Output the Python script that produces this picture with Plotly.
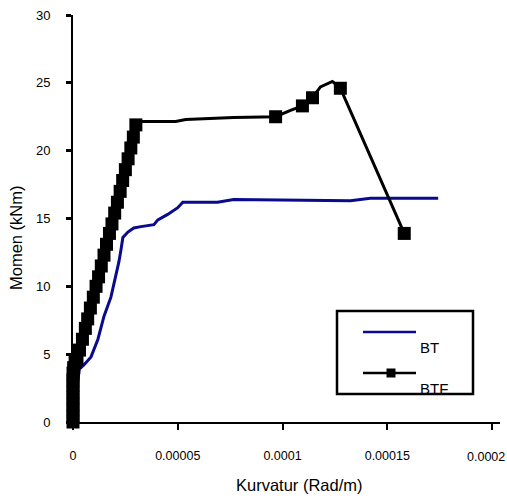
import plotly.graph_objects as go

# ---- data ----
bt_x = [0.0, 3.0e-6, 5.2e-6, 8.6e-6, 11.9e-6, 14.8e-6, 18.1e-6, 20.5e-6, 21.9e-6, 22.9e-6,
        23.8e-6, 26.2e-6, 29.0e-6, 32.4e-6, 38.6e-6, 40.5e-6, 45.2e-6, 50.0e-6, 52.4e-6,
        69.0e-6, 76.7e-6, 132.4e-6, 141.9e-6, 174.3e-6]
bt_y = [0.0, 3.9, 4.2, 4.8, 6.1, 7.8, 9.2, 10.7, 11.8, 12.7,
        13.6, 14.0, 14.3, 14.4, 14.55, 14.9, 15.3, 15.8, 16.2,
        16.2, 16.4, 16.3, 16.5, 16.5]

btf_x = [0.0, 0.0, 0.0, 0.0, 0.0, 0.0, 0.0, 0.0, 0.0, 0.3e-6,
         1.0e-6, 1.9e-6, 3.1e-6, 4.5e-6, 5.9e-6, 7.0e-6, 8.3e-6, 9.7e-6, 11.0e-6, 12.2e-6,
         13.5e-6, 14.8e-6, 16.0e-6, 17.4e-6, 18.6e-6, 19.9e-6, 21.2e-6, 22.5e-6, 23.7e-6, 25.0e-6,
         26.3e-6, 27.6e-6, 28.8e-6, 30.0e-6,
         32.4e-6, 49.0e-6, 53.8e-6, 76.7e-6, 89.5e-6, 96.7e-6, 103.8e-6, 109.5e-6, 114.3e-6,
         118.1e-6, 123.8e-6, 127.6e-6, 158.1e-6]
btf_y = [0.0, 0.4, 0.9, 1.3, 1.8, 2.2, 2.7, 3.1, 3.6, 4.0,
         4.4, 4.6, 5.3, 6.1, 6.9, 7.6, 8.4, 9.2, 10.0, 10.7,
         11.5, 12.3, 13.1, 13.9, 14.6, 15.4, 16.2, 17.0, 17.8, 18.6,
         19.4, 20.2, 21.0, 21.9,
         22.15, 22.15, 22.3, 22.45, 22.5, 22.5, 22.97, 23.3, 23.9,
         24.7, 25.1, 24.6, 13.9]
btf_has_marker = [1] * 34 + [0, 0, 0, 0, 0, 1, 0, 1, 1, 0, 0, 1, 1]

x_ticks = [0, 0.00005, 0.0001, 0.00015, 0.0002]
x_tick_text = ["0", "0.00005", "0.0001", "0.00015", "0.0002"]
y_ticks = [0, 5, 10, 15, 20, 25, 30]

series_names = ["BT", "BTF"]

FONT = "Arial, 'Liberation Sans', sans-serif"
BLUE = "#0a0a8c"

# the last x label sits a little left of its tick (as in the original) so it stays on the page:
# it is drawn as an annotation at its tick value, shifted left
x_tick_labels = x_tick_text[:-1] + [""]

fig = go.Figure()
fig.add_trace(go.Scatter(x=bt_x, y=bt_y, mode="lines", name=series_names[0],
                         line=dict(color=BLUE, width=3), showlegend=False))
fig.add_trace(go.Scatter(x=btf_x, y=btf_y, mode="lines+markers", name=series_names[1],
                         line=dict(color="black", width=3),
                         marker=dict(symbol="square", color="black", opacity=1,
                                     size=[13 if m else 0 for m in btf_has_marker],
                                     line=dict(width=0)),
                         opacity=1, cliponaxis=False, showlegend=False))

# plot area in pixels: x 73..500, y 15..422
L, R, T, B = 73, 500, 15, 422
W, H = R - L, B - T
px = lambda x: (x - L) / W
py = lambda y: (B - y) / H

# legend box (pixels) 337..473 x 311..394
LX0, LX1, LY0, LY1 = 337, 473, 311, 394
lx = lambda x: (x - LX0) / (LX1 - LX0)
ly = lambda y: (LY1 - y) / (LY1 - LY0)

# legend labels as text in a small clipped subplot (the box clips "BTF" like the original)
fig.add_trace(go.Scatter(x=[lx(420), lx(420)], y=[ly(349), ly(390)], mode="text",
                         text=series_names, textposition="middle right",
                         textfont=dict(family=FONT, size=15, color="black"),
                         xaxis="x2", yaxis="y2", cliponaxis=True, showlegend=False,
                         hoverinfo="skip"))

shapes = [
    dict(type="rect", xref="paper", yref="paper", x0=px(LX0), x1=px(LX1), y0=py(LY1), y1=py(LY0),
         line=dict(color="black", width=2.5), fillcolor="rgba(0,0,0,0)", layer="above"),
    dict(type="line", xref="paper", yref="paper", x0=px(363), x1=px(416), y0=py(332), y1=py(332),
         line=dict(color=BLUE, width=2.5), layer="above"),
    dict(type="line", xref="paper", yref="paper", x0=px(363), x1=px(416), y0=py(373), y1=py(373),
         line=dict(color="black", width=2.5), layer="above"),
    dict(type="rect", xref="paper", yref="paper", x0=px(386.5), x1=px(395.5), y0=py(377.5), y1=py(368.5),
         line=dict(width=0), fillcolor="black", layer="above"),
]

annotations = [
    dict(text=x_tick_text[-1], xref="x", yref="paper", x=x_ticks[-1], y=py(457.5), xshift=-6,
         xanchor="center", yanchor="middle", showarrow=False,
         font=dict(family=FONT, size=12.5, color="black")),
    dict(text="Kurvatur (Rad/m)", xref="paper", yref="paper", x=px(299), y=py(485),
         xanchor="center", yanchor="middle", showarrow=False,
         font=dict(family=FONT, size=16.5, color="black")),
    dict(text="Momen (kNm)", xref="paper", yref="paper", x=px(16), y=py(237), textangle=-90,
         xanchor="center", yanchor="middle", showarrow=False,
         font=dict(family=FONT, size=16.5, color="black")),
]

fig.update_layout(
    width=507, height=499,
    margin=dict(l=L, r=507 - R, t=T, b=499 - B, autoexpand=False),
    paper_bgcolor="white", plot_bgcolor="white",
    font=dict(family=FONT, color="black"),
    shapes=shapes, annotations=annotations,
    showlegend=False,
    xaxis=dict(range=[0, 0.0002038], tickvals=x_ticks, ticktext=x_tick_labels,
               showgrid=False, zeroline=False, showline=True, linecolor="black", linewidth=2,
               ticks="outside", ticklen=6, tickwidth=2, tickcolor="black",
               tickfont=dict(family=FONT, size=12.5, color="black"), ticklabelstandoff=15,
               ticklabeloverflow="allow", automargin=False),
    yaxis=dict(range=[0, 30], tickvals=y_ticks,
               showgrid=False, zeroline=False, showline=True, linecolor="black", linewidth=2,
               ticks="outside", ticklen=5, tickwidth=2.5, tickcolor="black",
               tickfont=dict(family=FONT, size=13, color="black"), ticklabelstandoff=13,
               automargin=False),
    xaxis2=dict(domain=[px(LX0), px(LX1)], range=[0, 1], anchor="y2", visible=False,
                fixedrange=True),
    yaxis2=dict(domain=[py(LY1), py(LY0)], range=[0, 1], anchor="x2", visible=False,
                fixedrange=True),
)

fig.write_html("out.html")
